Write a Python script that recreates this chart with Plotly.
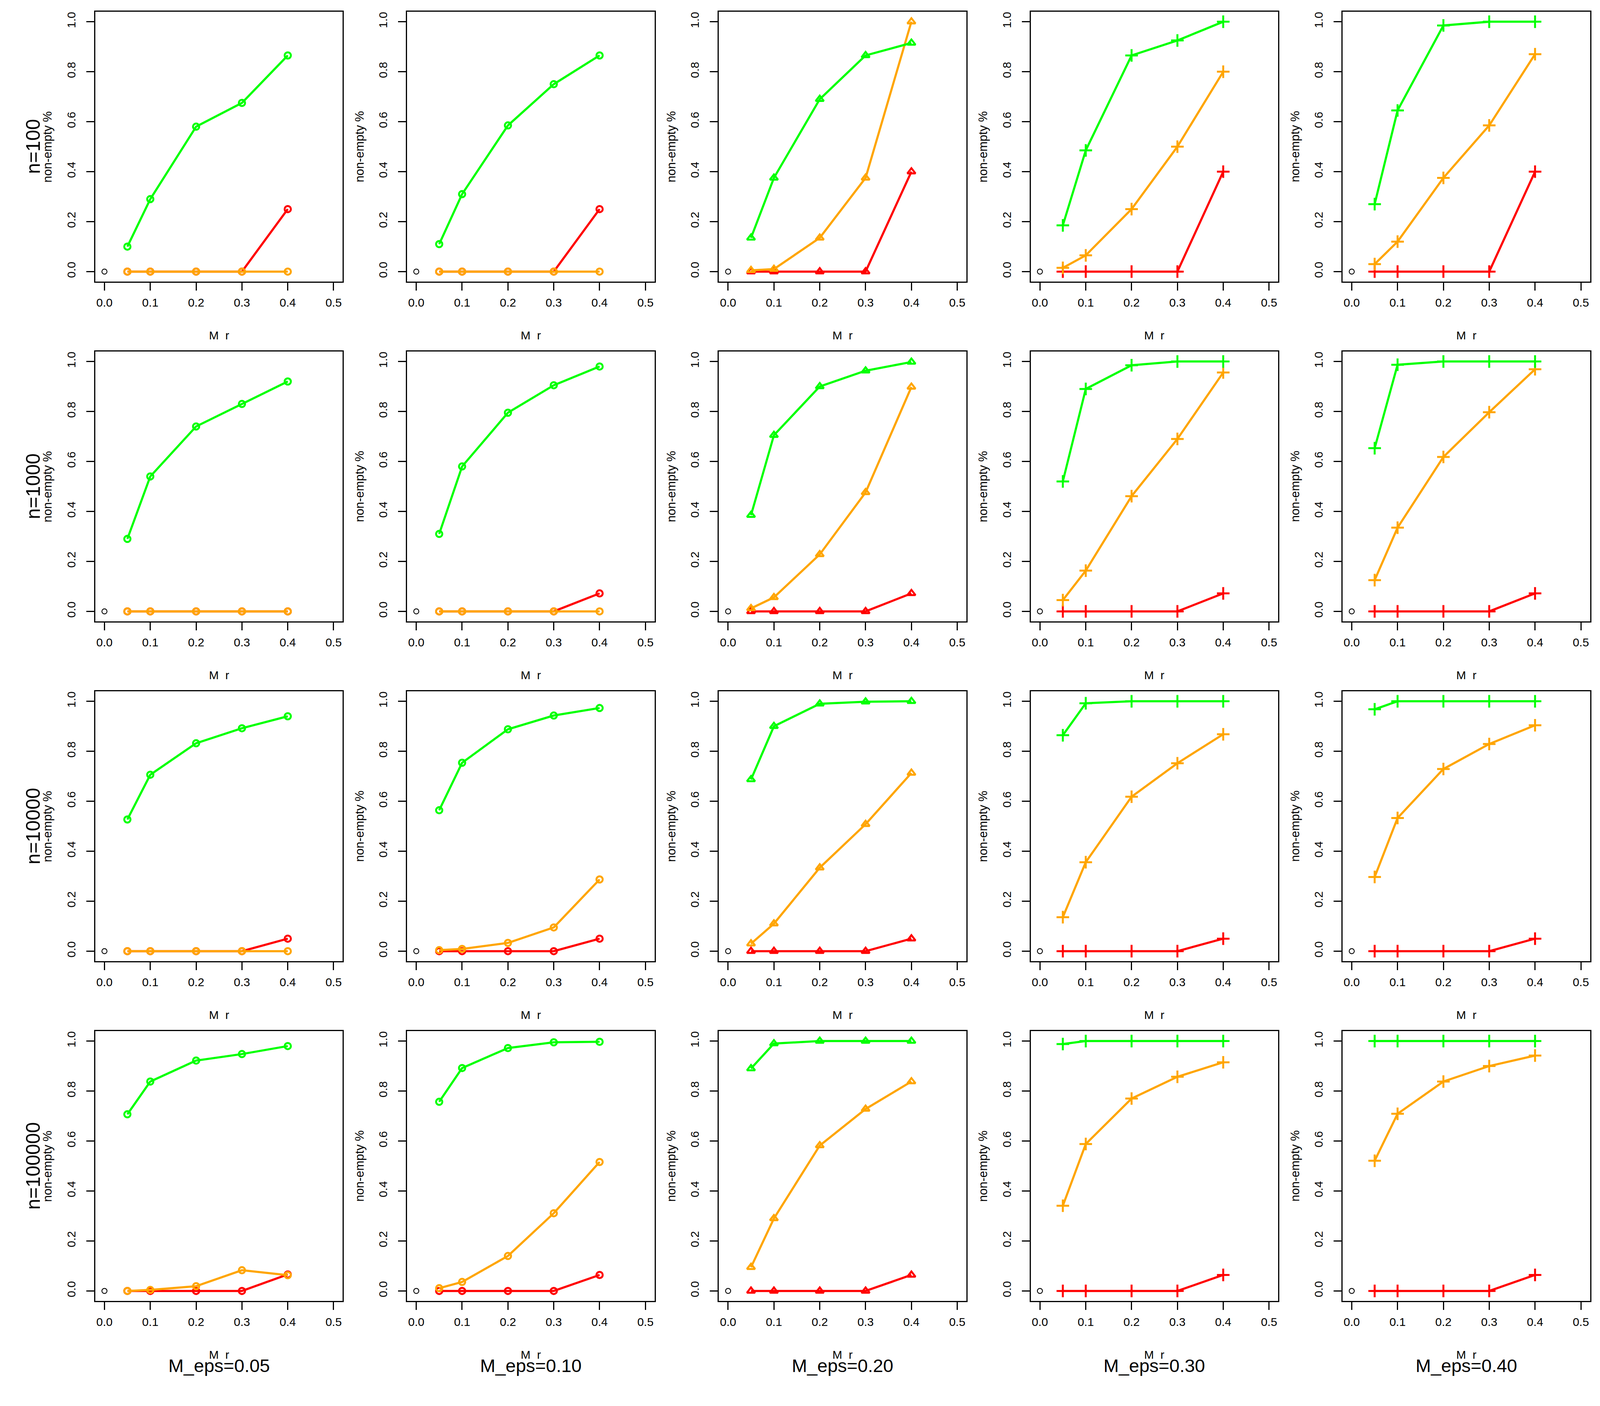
import plotly.graph_objects as go
from plotly.subplots import make_subplots

# x positions (M r) and labels
x_r = [0.05, 0.1, 0.2, 0.3, 0.4]
x_ticks = [0.0, 0.1, 0.2, 0.3, 0.4, 0.5]
y_ticks = [0.0, 0.2, 0.4, 0.6, 0.8, 1.0]
eps_labels = ["M_eps=0.05", "M_eps=0.10", "M_eps=0.20", "M_eps=0.30", "M_eps=0.40"]
n_labels = ["n=100", "n=1000", "n=10000", "n=100000"]

# one list per column (M_eps = 0.05 ... 0.40)
green_100 = [[0.10, 0.29, 0.58, 0.675, 0.865],
             [0.11, 0.31, 0.585, 0.75, 0.865],
             [0.135, 0.375, 0.69, 0.865, 0.915],
             [0.185, 0.485, 0.865, 0.925, 1.0],
             [0.27, 0.645, 0.985, 1.0, 1.0]]
orange_100 = [[0, 0, 0, 0, 0],
              [0, 0, 0, 0, 0],
              [0.005, 0.01, 0.135, 0.375, 1.0],
              [0.015, 0.065, 0.25, 0.5, 0.8],
              [0.03, 0.12, 0.375, 0.585, 0.87]]
red_100 = [[0, 0, 0, 0, 0.25],
           [0, 0, 0, 0, 0.25],
           [0, 0, 0, 0, 0.4],
           [0, 0, 0, 0, 0.4],
           [0, 0, 0, 0, 0.4]]

green_1000 = [[0.29, 0.54, 0.74, 0.83, 0.92],
              [0.31, 0.58, 0.795, 0.905, 0.98],
              [0.385, 0.705, 0.9, 0.963, 0.998],
              [0.52, 0.89, 0.985, 1.0, 1.0],
              [0.653, 0.987, 1.0, 1.0, 1.0]]
orange_1000 = [[0, 0, 0, 0, 0],
               [0, 0, 0, 0, 0],
               [0.012, 0.056, 0.228, 0.476, 0.898],
               [0.045, 0.163, 0.461, 0.69, 0.956],
               [0.125, 0.335, 0.618, 0.797, 0.969]]
red_1000 = [[0, 0, 0, 0, 0],
            [0, 0, 0, 0, 0.072],
            [0, 0, 0, 0, 0.072],
            [0, 0, 0, 0, 0.072],
            [0, 0, 0, 0, 0.072]]

green_10000 = [[0.527, 0.706, 0.832, 0.892, 0.94],
               [0.564, 0.754, 0.888, 0.943, 0.973],
               [0.687, 0.9, 0.99, 0.998, 1.0],
               [0.864, 0.992, 1.0, 1.0, 1.0],
               [0.968, 1.0, 1.0, 1.0, 1.0]]
orange_10000 = [[0, 0, 0, 0, 0],
                [0.004, 0.009, 0.033, 0.095, 0.287],
                [0.03, 0.11, 0.334, 0.508, 0.713],
                [0.136, 0.356, 0.618, 0.752, 0.868],
                [0.297, 0.533, 0.729, 0.829, 0.904]]
red_10000 = [[0, 0, 0, 0, 0.05],
             [0, 0, 0, 0, 0.05],
             [0, 0, 0, 0, 0.05],
             [0, 0, 0, 0, 0.05],
             [0, 0, 0, 0, 0.05]]

green_100000 = [[0.707, 0.838, 0.922, 0.948, 0.98],
                [0.757, 0.892, 0.972, 0.995, 0.997],
                [0.89, 0.99, 1.0, 1.0, 1.0],
                [0.988, 1.0, 1.0, 1.0, 1.0],
                [1.0, 1.0, 1.0, 1.0, 1.0]]
orange_100000 = [[0, 0.004, 0.019, 0.083, 0.063],
                 [0.011, 0.036, 0.14, 0.311, 0.516],
                 [0.095, 0.29, 0.582, 0.728, 0.838],
                 [0.341, 0.588, 0.77, 0.857, 0.915],
                 [0.521, 0.709, 0.838, 0.9, 0.942]]
red_100000 = [[0, 0, 0, 0, 0.066],
              [0, 0, 0, 0, 0.064],
              [0, 0, 0, 0, 0.064],
              [0, 0, 0, 0, 0.064],
              [0, 0, 0, 0, 0.064]]

greens = [green_100, green_1000, green_10000, green_100000]
oranges = [orange_100, orange_1000, orange_10000, orange_100000]
reds = [red_100, red_1000, red_10000, red_100000]

symbols = ["circle-open", "circle-open", "triangle-up-open", "cross-thin-open", "cross-thin-open"]
msizes = [16, 16, 18, 23, 23]

# the browser viewport is only 4096 wide, so the 4500-wide layout is squeezed
# horizontally; the page body also has its default 8px margin
REF_W = 4500
VIEW_W, VIEW_H = 4096, 3600
FW, FH = VIEW_W - 16, VIEW_H - 16
sx = VIEW_W / REF_W


def fx(px):
    return (px * sx - 8) / FW


def fy(py):
    return 1 - (py - 8) / FH


box_w, box_h = 696, 691
left0, top0 = 268, 30
dx, dy = 877, 870
FONT = "Liberation Sans, Arial, sans-serif"

fig = make_subplots(rows=4, cols=5)
annotations = []

for r in range(4):
    for c in range(5):
        left = left0 + c * dx
        top = top0 + r * dy
        k = r * 5 + c + 1
        sfx = "" if k == 1 else str(k)
        fig.layout["xaxis" + sfx].domain = [fx(left), fx(left + box_w)]
        fig.layout["yaxis" + sfx].domain = [fy(top + box_h), fy(top)]

        # the lone black point at the origin
        fig.add_trace(go.Scatter(x=[0], y=[0], mode="markers",
                                 marker=dict(symbol="circle-open", size=13, color="black",
                                             line=dict(color="black", width=2.2))),
                      row=r + 1, col=c + 1)
        for vals, col in [(reds[r][c], "#FF0000"), (oranges[r][c], "#FFA500"),
                          (greens[r][c], "#00FF00")]:
            fig.add_trace(go.Scatter(x=x_r, y=vals, mode="lines+markers",
                                     line=dict(color=col, width=5.5),
                                     marker=dict(symbol=symbols[c], size=msizes[c], color=col,
                                                 line=dict(color=col, width=5))),
                          row=r + 1, col=c + 1)

        annotations.append(dict(text="non-empty %", x=fx(left - 134),
                                y=fy(top + box_h / 2), textangle=-90,
                                font=dict(size=31)))
        annotations.append(dict(text="M\u00a0\u00a0r", x=fx(left + box_w / 2),
                                y=fy(top + box_h + 137), font=dict(size=30)))

for r in range(4):
    top = top0 + r * dy
    annotations.append(dict(text=n_labels[r], x=fx(93), y=fy(top + box_h / 2),
                            textangle=-90, font=dict(size=50)))
for c in range(5):
    left = left0 + c * dx
    annotations.append(dict(text=eps_labels[c], x=fx(left + box_w / 2),
                            y=fy(3496), font=dict(size=47)))

for a in annotations:
    a.update(xref="paper", yref="paper", showarrow=False, xanchor="center", yanchor="middle")

axis_common = dict(showgrid=False, zeroline=False, showline=True, mirror=True,
                   linecolor="black", linewidth=3, ticks="outside", ticklen=20,
                   tickwidth=3, tickcolor="black", tickfont=dict(size=30, color="black"))
fig.update_xaxes(range=[-0.02, 0.52], tickvals=x_ticks,
                 ticktext=["%.1f" % v for v in x_ticks], ticklabelstandoff=5, **axis_common)
fig.update_yaxes(range=[-0.04, 1.04], tickvals=y_ticks,
                 ticktext=["%.1f" % v for v in y_ticks], tickangle=-90,
                 ticklabelstandoff=16, **axis_common)

fig.update_layout(width=FW, height=FH, margin=dict(l=0, r=0, t=0, b=0),
                  paper_bgcolor="white", plot_bgcolor="white", showlegend=False,
                  font=dict(family=FONT, color="black"), annotations=annotations)

fig.write_html("out.html")
